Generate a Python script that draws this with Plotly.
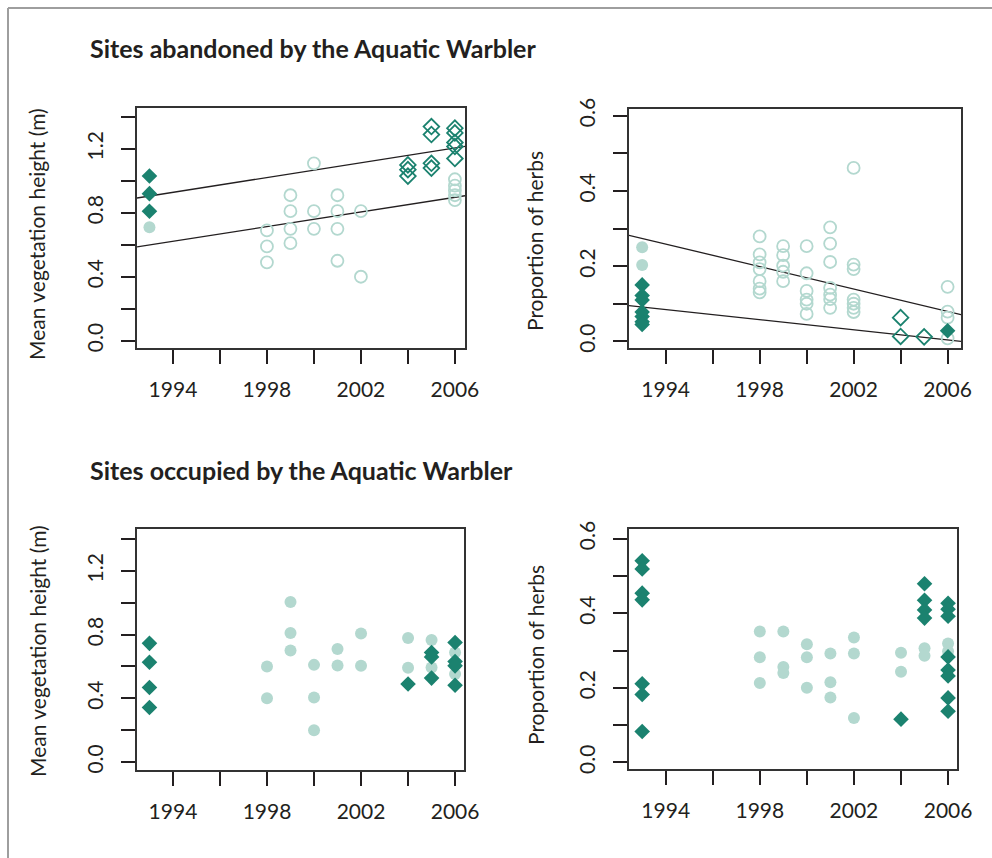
import plotly.graph_objects as go

# ---------------------------------------------------------------
# Data: vegetation survey of Aquatic Warbler sites by year
# ---------------------------------------------------------------
LIGHT = "#b3d8cf"
DARK = "#1b826f"
INK = "#231f20"

# --- Sites abandoned: mean vegetation height (m) ---
ab_h_fill_c_x = [1993]
ab_h_fill_c_y = [0.71]
ab_h_fill_d_x = [1993, 1993, 1993]
ab_h_fill_d_y = [1.03, 0.92, 0.81]
ab_h_open_c_x = [1998, 1998, 1998,
                 1999, 1999, 1999, 1999,
                 2000, 2000, 2000,
                 2001, 2001, 2001, 2001,
                 2002, 2002,
                 2006, 2006, 2006, 2006, 2006]
ab_h_open_c_y = [0.69, 0.59, 0.49,
                 0.91, 0.81, 0.70, 0.61,
                 1.11, 0.81, 0.70,
                 0.91, 0.81, 0.70, 0.50,
                 0.81, 0.40,
                 1.01, 0.97, 0.94, 0.91, 0.88]
ab_h_open_d_x = [2004, 2004, 2004, 2005, 2005, 2005, 2005,
                 2006, 2006, 2006, 2006, 2006]
ab_h_open_d_y = [1.10, 1.07, 1.03, 1.34, 1.29, 1.11, 1.08,
                 1.33, 1.30, 1.24, 1.215, 1.14]
# fitted trends: value in 1993 and in 2006
ab_h_trend_hi = [0.905, 1.206]
ab_h_trend_lo = [0.599, 0.897]

# --- Sites abandoned: proportion of herbs ---
ab_p_fill_c_x = [1993, 1993]
ab_p_fill_c_y = [0.25, 0.203]
ab_p_fill_d_x = [1993, 1993, 1993, 1993, 1993, 1993, 1993, 2006]
ab_p_fill_d_y = [0.150, 0.122, 0.110, 0.078, 0.066, 0.052, 0.045, 0.028]
ab_p_open_c_x = [1998] * 7 + [1999] * 5 + [2000] * 6 + [2001] * 7 + [2002] * 7 + [2006] * 4
ab_p_open_c_y = [0.279, 0.231, 0.210, 0.192, 0.160, 0.140, 0.130,
                 0.253, 0.229, 0.201, 0.185, 0.160,
                 0.253, 0.181, 0.134, 0.111, 0.100, 0.073,
                 0.303, 0.260, 0.211, 0.142, 0.124, 0.112, 0.089,
                 0.461, 0.204, 0.192, 0.111, 0.100, 0.089, 0.078,
                 0.145, 0.079, 0.063, 0.008]
ab_p_open_d_x = [2004, 2004, 2005]
ab_p_open_d_y = [0.063, 0.013, 0.012]
ab_p_trend_hi = [0.2736, 0.0795]
ab_p_trend_lo = [0.0912, 0.0038]

# --- Sites occupied: mean vegetation height (m) ---
oc_h_fill_c_x = [1998, 1998, 1999, 1999, 1999, 2000, 2000, 2000,
                 2001, 2001, 2002, 2002, 2004, 2004, 2005, 2005,
                 2006, 2006, 2006]
oc_h_fill_c_y = [0.60, 0.40, 1.005, 0.81, 0.70, 0.61, 0.405, 0.20,
                 0.71, 0.606, 0.807, 0.604, 0.778, 0.592, 0.766, 0.593,
                 0.687, 0.62, 0.552]
oc_h_fill_d_x = [1993, 1993, 1993, 1993, 2004, 2005, 2005, 2005,
                 2006, 2006, 2006, 2006]
oc_h_fill_d_y = [0.745, 0.626, 0.468, 0.342, 0.490, 0.687, 0.660, 0.527,
                 0.750, 0.631, 0.604, 0.482]

# --- Sites occupied: proportion of herbs ---
oc_p_fill_c_x = [1998, 1998, 1998, 1999, 1999, 1999, 2000, 2000, 2000,
                 2001, 2001, 2001, 2002, 2002, 2002, 2004, 2004,
                 2005, 2005, 2006, 2006]
oc_p_fill_c_y = [0.351, 0.282, 0.213, 0.351, 0.256, 0.240, 0.317, 0.282, 0.200,
                 0.292, 0.215, 0.174, 0.335, 0.292, 0.119, 0.294, 0.243,
                 0.306, 0.286, 0.319, 0.298]
oc_p_fill_d_x = [1993] * 7 + [2004] + [2005] * 4 + [2006] * 8
oc_p_fill_d_y = [0.541, 0.519, 0.454, 0.436, 0.211, 0.182, 0.083,
                 0.116,
                 0.479, 0.435, 0.409, 0.387,
                 0.427, 0.411, 0.392, 0.283, 0.248, 0.232, 0.173, 0.137]

# axis ticks
year_ticks = [1994, 1996, 1998, 2000, 2002, 2004, 2006]
year_text = ["1994", "", "1998", "", "2002", "", "2006"]
h_ticks = [0.0, 0.2, 0.4, 0.6, 0.8, 1.0, 1.2, 1.4]
h_text = ["0.0", "", "0.4", "", "0.8", "", "1.2", ""]
p_ticks = [0.0, 0.1, 0.2, 0.3, 0.4, 0.5, 0.6]
p_text = ["0.0", "", "0.2", "", "0.4", "", "0.6"]

W, H = 992, 858
FONT = "Lato"


def px_x(a, b):
    return [a / W, b / W]


def px_y(top, bottom):
    return [1 - bottom / H, 1 - top / H]


panels = [
    # (domain x, domain y, x range, y range, y ticks, y tick text)
    (px_x(137, 465), px_y(108, 348), [1992.47, 2006.43], [-0.046, 1.456], h_ticks, h_text),
    (px_x(629, 961), px_y(109, 348), [1992.44, 2006.57], [-0.0177, 0.6177], p_ticks, p_text),
    (px_x(137, 464), px_y(529, 770), [1992.47, 2006.38], [-0.050, 1.463], h_ticks, h_text),
    (px_x(629, 957), px_y(529, 769), [1992.44, 2006.38], [-0.0177, 0.626], p_ticks, p_text),
]

fig = go.Figure()
layout = dict(
    width=W, height=H,
    margin=dict(l=0, r=0, t=0, b=0, autoexpand=False),
    paper_bgcolor="white", plot_bgcolor="white",
    showlegend=False,
    font=dict(family=FONT, color=INK, size=21),
)

for i, (dx, dy, xr, yr, yt, ytt) in enumerate(panels, start=1):
    sfx = "" if i == 1 else str(i)
    layout["xaxis" + sfx] = dict(
        domain=dx, range=xr, anchor="y" + sfx, automargin=False,
        tickmode="array", tickvals=year_ticks, ticktext=year_text,
        ticks="outside", ticklen=14, tickwidth=2, tickcolor=INK,
        showline=True, linecolor="#333333", linewidth=1.5, mirror=True,
        showgrid=False, zeroline=False,
        tickfont=dict(family=FONT, size=21, color=INK),
        ticklabelstandoff=8,
    )
    layout["yaxis" + sfx] = dict(
        domain=dy, range=yr, anchor="x" + sfx, automargin=False,
        tickmode="array", tickvals=yt, ticktext=ytt,
        ticks="outside", ticklen=14, tickwidth=2, tickcolor=INK,
        showline=True, linecolor="#333333", linewidth=1.5, mirror=True,
        showgrid=False, zeroline=False, tickangle=-90,
        tickfont=dict(family=FONT, size=21, color=INK),
        ticklabelstandoff=10,
    )

fig.update_layout(**layout)


def add_pts(xs, ys, panel, symbol, size, color, lw=1.8):
    sfx = "" if panel == 1 else str(panel)
    marker = dict(symbol=symbol, size=size, color=color)
    if symbol.endswith("-open"):
        marker["line"] = dict(width=lw, color=color)
    else:
        marker["line"] = dict(width=0)
    fig.add_trace(go.Scatter(x=xs, y=ys, mode="markers", marker=marker,
                             xaxis="x" + sfx, yaxis="y" + sfx,
                             hoverinfo="x+y", cliponaxis=False))


def add_trend(vals, panel):
    sfx = "" if panel == 1 else str(panel)
    xr = panels[panel - 1][2]
    slope = (vals[1] - vals[0]) / (2006 - 1993)
    xs = [xr[0], xr[1]]
    ys = [vals[0] + slope * (x - 1993) for x in xs]
    fig.add_trace(go.Scatter(x=xs, y=ys, mode="lines",
                             line=dict(color=INK, width=1.3),
                             xaxis="x" + sfx, yaxis="y" + sfx, hoverinfo="skip"))


# panel 1: abandoned, height
add_trend(ab_h_trend_hi, 1)
add_trend(ab_h_trend_lo, 1)
add_pts(ab_h_open_c_x, ab_h_open_c_y, 1, "circle-open", 12, LIGHT)
add_pts(ab_h_fill_c_x, ab_h_fill_c_y, 1, "circle", 12, LIGHT)
add_pts(ab_h_fill_d_x, ab_h_fill_d_y, 1, "diamond", 12, DARK)
add_pts(ab_h_open_d_x, ab_h_open_d_y, 1, "diamond-open", 12, DARK)

# panel 2: abandoned, herbs
add_trend(ab_p_trend_hi, 2)
add_trend(ab_p_trend_lo, 2)
add_pts(ab_p_open_c_x, ab_p_open_c_y, 2, "circle-open", 12, LIGHT)
add_pts(ab_p_fill_c_x, ab_p_fill_c_y, 2, "circle", 12, LIGHT)
add_pts(ab_p_fill_d_x, ab_p_fill_d_y, 2, "diamond", 12, DARK)
add_pts(ab_p_open_d_x, ab_p_open_d_y, 2, "diamond-open", 12, DARK)

# panel 3: occupied, height
add_pts(oc_h_fill_c_x, oc_h_fill_c_y, 3, "circle", 12, LIGHT)
add_pts(oc_h_fill_d_x, oc_h_fill_d_y, 3, "diamond", 12, DARK)

# panel 4: occupied, herbs
add_pts(oc_p_fill_c_x, oc_p_fill_c_y, 4, "circle", 12, LIGHT)
add_pts(oc_p_fill_d_x, oc_p_fill_d_y, 4, "diamond", 12, DARK)

# section headings
for text, ypx in [("Sites abandoned by the Aquatic Warbler", 48),
                  ("Sites occupied by the Aquatic Warbler", 470)]:
    fig.add_annotation(text=text, xref="paper", yref="paper",
                       x=88 / W, y=1 - ypx / H, xanchor="left", yanchor="middle",
                       showarrow=False,
                       font=dict(family=FONT, size=25, color=INK, weight="bold"))

# y-axis titles
for text, xpx, ypx in [("Mean vegetation height (m)", 37, 234),
                       ("Proportion of herbs", 535, 241),
                       ("Mean vegetation height (m)", 37, 651),
                       ("Proportion of herbs", 535, 655)]:
    fig.add_annotation(text=text, xref="paper", yref="paper",
                       x=xpx / W, y=1 - ypx / H, xanchor="center", yanchor="middle",
                       textangle=-90, showarrow=False,
                       font=dict(family=FONT, size=21, color=INK))

# outer frame (top and left edges visible)
fig.add_shape(type="line", xref="paper", yref="paper",
              x0=8 / W, x1=1.0, y0=1 - 8 / H, y1=1 - 8 / H,
              line=dict(color="#9e9e9e", width=2))
fig.add_shape(type="line", xref="paper", yref="paper",
              x0=8 / W, x1=8 / W, y0=1 - 8 / H, y1=0.0,
              line=dict(color="#9e9e9e", width=2))

fig.write_html("out.html")
